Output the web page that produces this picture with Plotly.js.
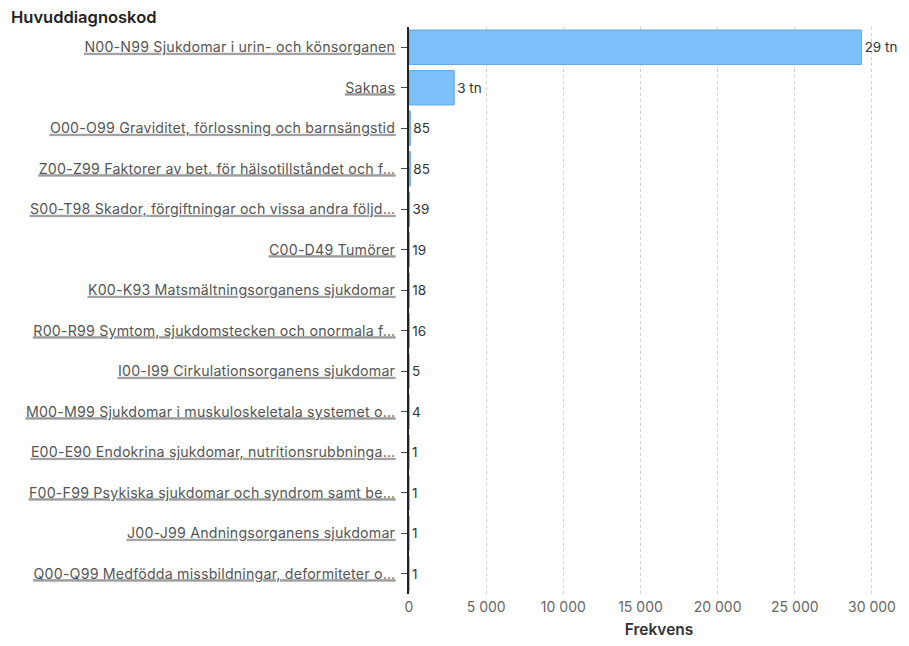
<!DOCTYPE html>
<html>
<head>
<meta charset="utf-8">
<script src="https://cdn.plot.ly/plotly-3.0.1.min.js"></script>
<style>
  html, body { margin: 0; padding: 0; background: #fff; }
  #chart { width: 909px; height: 646px; }
</style>
</head>
<body>
<div id="chart"></div>
<script>
const categories = [
  "N00-N99 Sjukdomar i urin- och könsorganen",
  "Saknas",
  "O00-O99 Graviditet, förlossning och barnsängstid",
  "Z00-Z99 Faktorer av bet. för hälsotillståndet och f…",
  "S00-T98 Skador, förgiftningar och vissa andra följd…",
  "C00-D49 Tumörer",
  "K00-K93 Matsmältningsorganens sjukdomar",
  "R00-R99 Symtom, sjukdomstecken och onormala f…",
  "I00-I99 Cirkulationsorganens sjukdomar",
  "M00-M99 Sjukdomar i muskuloskeletala systemet o…",
  "E00-E90 Endokrina sjukdomar, nutritionsrubbninga…",
  "F00-F99 Psykiska sjukdomar och syndrom samt be…",
  "J00-J99 Andningsorganens sjukdomar",
  "Q00-Q99 Medfödda missbildningar, deformiteter o…"
];
const frequencies = [29330, 2930, 85, 85, 39, 19, 18, 16, 5, 4, 1, 1, 1, 1];
const xTickValues = [0, 5000, 10000, 15000, 20000, 25000, 30000];
const xTickLabels = ["0", "5 000", "10 000", "15 000", "20 000", "25 000", "30 000"];

const labelText = frequencies.map(v => v >= 1000 ? Math.round(v / 1000) + " tn" : String(v));
const tickText = categories.map(c =>
  '<span style="text-decoration:underline;fill:#9c9c9c;stroke:#9c9c9c;stroke-width:0.9px">' +
  '<span style="fill:#555;stroke:none;letter-spacing:0.2px">' + c + '</span></span>');

const FONT = "Inter, 'Noto Sans', sans-serif";

const trace = {
  type: "bar",
  orientation: "h",
  y: categories,
  x: frequencies,
  text: labelText,
  textposition: "outside",
  cliponaxis: false,
  constraintext: "none",
  textfont: { family: FONT, size: 13.5, color: "#333" },
  marker: { color: "#7cc0fa", line: { color: "#62a8e6", width: 1 } },
  hoverinfo: "x+y"
};

const layout = {
  width: 909,
  height: 646,
  margin: { l: 409, r: 0, t: 27, b: 52 },
  paper_bgcolor: "#fff",
  plot_bgcolor: "#fff",
  bargap: 0.15,
  showlegend: false,
  font: { family: FONT, color: "#444" },
  title: {
    text: '<span style="font-weight:600">Huvuddiagnoskod</span>',
    x: 11 / 909, xanchor: "left", xref: "container",
    y: 0.974, yanchor: "middle", yref: "container",
    font: { family: FONT, size: 16.5, color: "#222" }
  },
  xaxis: {
    range: [0, 32400],
    tickvals: xTickValues,
    ticktext: xTickLabels,
    showgrid: true,
    gridcolor: "#cfcfcf",
    griddash: "dot",
    gridwidth: 1,
    zeroline: false,
    showline: false,
    ticks: "",
    ticklabelstandoff: 3,
    tickfont: { size: 14, color: "#666" },
    title: { text: '<span style="font-weight:600">Frekvens</span>', font: { size: 15.5, color: "#333" }, standoff: 10 },
    fixedrange: true
  },
  yaxis: {
    type: "category",
    range: [13.5, -0.5],
    showline: true,
    linecolor: "#222",
    linewidth: 2,
    ticks: "outside",
    ticklen: 6,
    tickcolor: "#444",
    tickwidth: 1,
    ticklabelstandoff: 3,
    tickvals: categories,
    ticktext: tickText,
    tickfont: { size: 14.2, color: "#555" },
    showgrid: false,
    zeroline: false,
    fixedrange: true
  }
};

Plotly.newPlot("chart", [trace], layout, { displayModeBar: false, staticPlot: true });
</script>
</body>
</html>
